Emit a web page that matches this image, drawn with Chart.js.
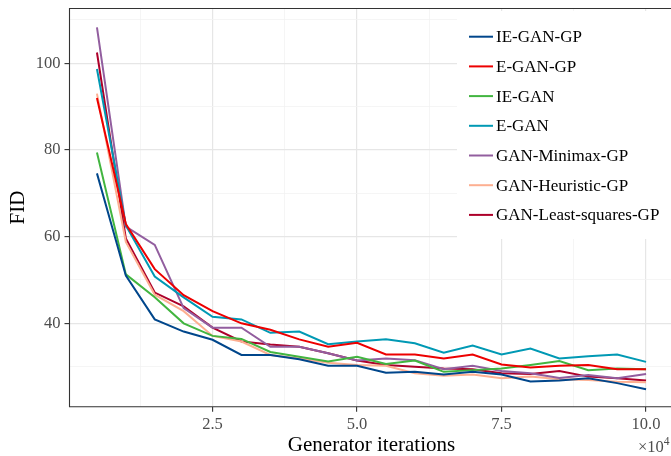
<!DOCTYPE html>
<html><head><meta charset="utf-8">
<script src="https://cdn.jsdelivr.net/npm/chart.js@4"></script>
<style>
html,body{margin:0;padding:0;background:#fff;overflow:hidden;width:671px;height:456px}
#wrap{position:relative;width:680px;height:456px}
canvas{display:block}
</style></head><body>
<div id="wrap"><canvas id="c" width="680" height="456"></canvas></div>
<script>
const iterations = [0.5, 1.0, 1.5, 2.0, 2.5, 3.0, 3.5, 4.0, 4.5, 5.0, 5.5, 6.0, 6.5, 7.0, 7.5, 8.0, 8.5, 9.0, 9.5, 10.0];
const seriesNames = ['IE-GAN-GP', 'E-GAN-GP', 'IE-GAN', 'E-GAN', 'GAN-Minimax-GP', 'GAN-Heuristic-GP', 'GAN-Least-squares-GP'];
const seriesColors = ['#00468B', '#ED0000', '#42B540', '#0099B4', '#925E9F', '#FDAF91', '#AD002A'];
const ieGanGp = [74.6, 51.0, 40.9, 38.1, 36.2, 32.7, 32.7, 31.7, 30.2, 30.2, 28.6, 28.8, 28.2, 28.8, 28.2, 26.6, 26.8, 27.3, 26.2, 24.8];
const eGanGp = [92.0, 62.9, 52.5, 46.5, 42.8, 40.0, 38.5, 36.3, 34.6, 35.5, 32.8, 32.8, 31.9, 32.8, 30.5, 29.8, 30.2, 30.4, 29.4, 29.4];
const ieGan = [79.4, 51.3, 46.0, 40.0, 37.1, 36.4, 33.4, 32.3, 31.2, 32.3, 30.6, 31.4, 28.8, 29.2, 29.6, 30.4, 31.3, 29.2, 29.6, 29.4];
const eGan = [98.7, 62.6, 50.8, 46.0, 41.5, 40.9, 37.8, 38.1, 35.2, 35.8, 36.3, 35.4, 33.2, 34.9, 32.8, 34.2, 31.9, 32.4, 32.8, 31.1];
const ganMinimaxGp = [108.3, 62.3, 58.1, 43.5, 39.0, 39.0, 34.6, 34.6, 33.1, 31.4, 31.9, 31.5, 29.4, 30.2, 29.0, 28.5, 27.4, 28.1, 27.3, 28.3];
const ganHeuristicGp = [93.0, 58.8, 46.6, 42.8, 37.1, 35.8, 32.7, 31.9, 30.9, 30.4, 30.2, 28.5, 27.9, 28.2, 27.3, 27.7, 27.1, 26.9, 26.5, 26.4];
const ganLeastSquaresGp = [102.5, 59.6, 47.1, 43.9, 39.0, 35.8, 35.1, 34.6, 33.1, 31.4, 30.4, 30.0, 29.6, 29.4, 28.5, 28.3, 29.0, 27.7, 27.3, 26.8];
const seriesValues = [ieGanGp, eGanGp, ieGan, eGan, ganMinimaxGp, ganHeuristicGp, ganLeastSquaresGp];

const xTickValues = [1.25, 2.5, 3.75, 5.0, 6.25, 7.5, 8.75, 10.0];
const xLabelValues = [2.5, 5.0, 7.5, 10.0];
const yTickValues = [30, 40, 50, 60, 70, 80, 90, 100, 110];
const yLabelValues = [40, 60, 80, 100];

const SERIF = "'Liberation Serif', 'Times New Roman', serif";
const isMajor = (vals, v) => vals.some(m => Math.abs(m - v) < 1e-6);

const datasets = seriesNames.map((name, i) => ({
  label: name,
  data: iterations.map((x, j) => ({x: x, y: seriesValues[i][j]})),
  borderColor: seriesColors[i],
  backgroundColor: seriesColors[i],
  borderWidth: 2,
  pointRadius: 0,
  tension: 0,
  fill: false
}));

function gridOpts(majors) {
  return {
    color: c => (c.tick && isMajor(majors, c.tick.value)) ? '#e6e6e6' : '#f3f3f3',
    lineWidth: c => (c.tick && isMajor(majors, c.tick.value)) ? 1.2 : 0.8,
    tickColor: c => (c.tick && isMajor(majors, c.tick.value)) ? '#333333' : 'rgba(0,0,0,0)',
    tickLength: 5,
    tickWidth: 1.1,
    drawTicks: true
  };
}

const overlay = {
  id: 'overlay',
  afterDatasetsDraw(chart) {
    const ctx = chart.ctx;
    ctx.save();
    ctx.fillStyle = '#ffffff';
    ctx.fillRect(457, 11, 240, 228);
    const x0 = 469, x1 = 493, yStart = 36.7, step = 29.7;
    ctx.font = '17px ' + SERIF;
    ctx.textBaseline = 'middle';
    ctx.textAlign = 'left';
    chart.data.datasets.forEach((ds, i) => {
      const y = yStart + i * step;
      ctx.strokeStyle = ds.borderColor;
      ctx.lineWidth = 2;
      ctx.beginPath();
      ctx.moveTo(x0, y);
      ctx.lineTo(x1, y);
      ctx.stroke();
      ctx.fillStyle = '#000000';
      ctx.fillText(ds.label, 496, y + 1);
    });
    ctx.restore();
  },
  afterDraw(chart) {
    const ctx = chart.ctx, a = chart.chartArea;
    ctx.save();
    ctx.strokeStyle = '#333333';
    ctx.lineWidth = 1.1;
    ctx.beginPath();
    ctx.moveTo(a.right + 10, a.top);
    ctx.lineTo(a.left, a.top);
    ctx.lineTo(a.left, a.bottom);
    ctx.lineTo(a.right + 10, a.bottom);
    ctx.stroke();
    ctx.fillStyle = '#4d4d4d';
    ctx.textBaseline = 'alphabetic';
    ctx.textAlign = 'left';
    ctx.font = '16.5px ' + SERIF;
    ctx.fillText('\u00d710', 638, 452);
    const w = ctx.measureText('\u00d710').width;
    ctx.font = '11.5px ' + SERIF;
    ctx.fillText('4', 638 + w, 445);
    ctx.restore();
  }
};

new Chart(document.getElementById('c'), {
  type: 'line',
  data: {datasets: datasets},
  options: {
    responsive: false,
    animation: false,
    devicePixelRatio: 1,
    layout: {padding: {top: 8.5, right: 6.5, left: 0, bottom: 0}},
    plugins: {legend: {display: false}, tooltip: {enabled: false}},
    scales: {
      x: {
        type: 'linear',
        min: 0.025,
        max: 10.475,
        afterBuildTicks: s => { s.ticks = xTickValues.map(v => ({value: v})); },
        afterFit: s => { s.height = 49.3; s.paddingLeft = 0; s.paddingRight = 0; },
        border: {display: false},
        grid: gridOpts(xLabelValues),
        ticks: {
          autoSkip: false,
          maxRotation: 0,
          padding: 3,
          color: '#4d4d4d',
          font: {family: SERIF, size: 16.5},
          callback: v => isMajor(xLabelValues, v) ? v.toFixed(1) : ''
        },
        title: {
          display: true,
          text: 'Generator iterations',
          color: '#000000',
          font: {family: SERIF, size: 21, lineHeight: 1},
          padding: {top: 0, bottom: 0}
        }
      },
      y: {
        type: 'linear',
        min: 20.76,
        max: 112.65,
        afterBuildTicks: s => { s.ticks = yTickValues.map(v => ({value: v})); },
        afterFit: s => { s.width = 69.5; s.paddingTop = 0; s.paddingBottom = 0; },
        border: {display: false},
        grid: gridOpts(yLabelValues),
        ticks: {
          autoSkip: false,
          padding: 4,
          color: '#4d4d4d',
          font: {family: SERIF, size: 16.5},
          callback: v => isMajor(yLabelValues, v) ? String(v) : ''
        },
        title: {
          display: true,
          text: 'FID',
          color: '#000000',
          font: {family: SERIF, size: 21, lineHeight: 1},
          padding: {top: 8, bottom: 0}
        }
      }
    }
  },
  plugins: [overlay]
});
</script>
</body></html>
